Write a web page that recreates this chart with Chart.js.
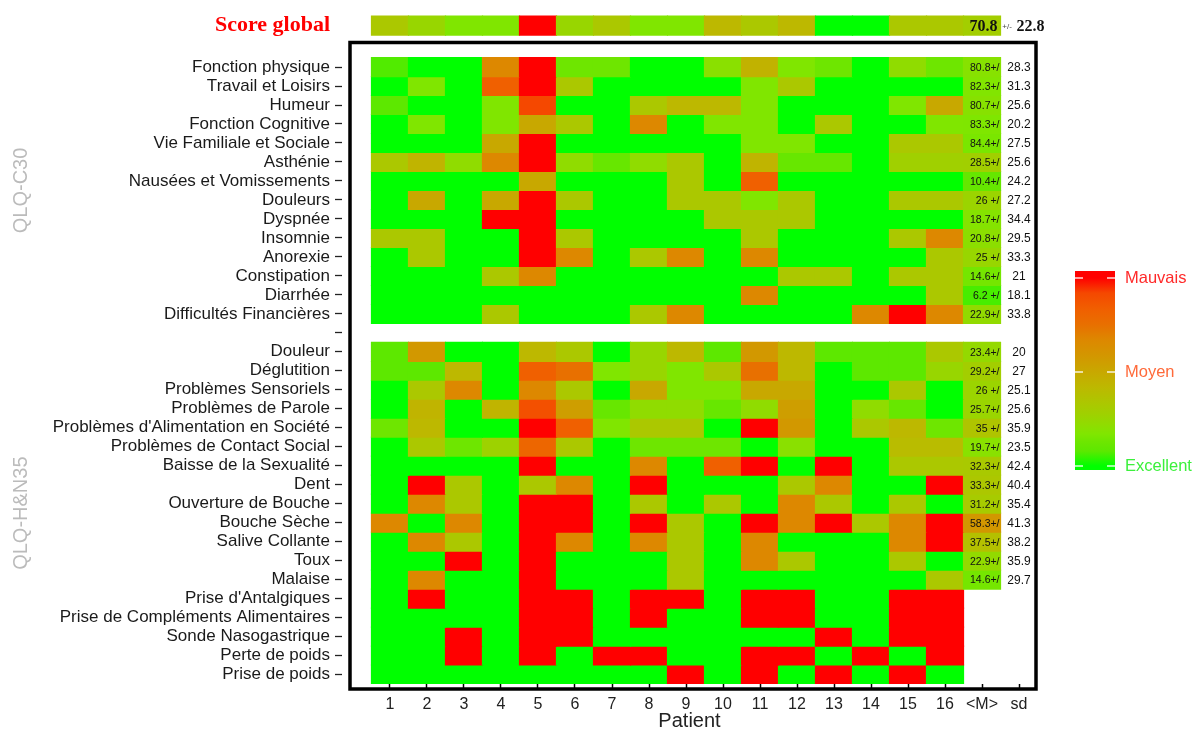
<!DOCTYPE html>
<html><head><meta charset="utf-8">
<script src="https://cdn.jsdelivr.net/npm/chart.js@4.4.1/dist/chart.umd.min.js"></script>
<style>html,body{margin:0;padding:0;background:#fff;}#wrap{width:1195px;height:731px;}</style>
</head><body><div id="wrap"><canvas id="c" width="1195" height="731"></canvas></div>
<script>
// ---------- DATA ----------
const patients = ['1','2','3','4','5','6','7','8','9','10','11','12','13','14','15','16'];
const summaryColumns = ['<M>', 'sd'];
const xAxisTitle = 'Patient';

const scoreGlobalLabel = 'Score global';
// level: 0 = excellent ... 100 = mauvais
const scoreGlobalLevel = [33,25,17,17,100,25,33,17,17,42,33,42,0,0,33,33];
const scoreGlobalMean = 70.8;
const scoreGlobalSd = 22.8;

const c30Title = 'QLQ-C30';
const c30Labels = ['Fonction physique','Travail et Loisirs','Humeur','Fonction Cognitive','Vie Familiale et Sociale','Asthénie','Nausées et Vomissements','Douleurs','Dyspnée','Insomnie','Anorexie','Constipation','Diarrhée','Difficultés Financières'];
const c30IsFunction = [true,true,true,true,true,false,false,false,false,false,false,false,false,false];
const c30Level = [
  [7,0,0,67,100,13,13,0,0,20,45,17,13,0,22,13],
  [0,17,0,83,100,33,0,0,0,0,17,33,0,0,0,0],
  [8,0,0,17,92,0,0,33,42,42,17,0,0,0,17,50],
  [0,17,0,17,50,33,0,67,0,17,17,0,33,0,0,17],
  [0,0,0,50,100,0,0,0,0,0,17,17,0,0,33,33],
  [33,44,22,67,100,22,11,22,33,0,44,11,11,0,28,28],
  [0,0,0,0,50,0,0,0,33,0,83,0,0,0,0,0],
  [0,50,0,50,100,33,0,0,33,33,17,33,0,0,33,33],
  [0,0,0,100,100,0,0,0,0,33,33,33,0,0,0,0],
  [33,33,0,0,100,33,0,0,0,0,33,0,0,0,33,67],
  [0,33,0,0,100,67,0,33,67,0,67,0,0,0,0,33],
  [0,0,0,33,67,0,0,0,0,0,0,33,33,0,33,33],
  [0,0,0,0,0,0,0,0,0,0,67,0,0,0,0,33],
  [0,0,0,33,0,0,0,33,67,0,0,0,0,67,100,67]
];
const c30Mean = [80.8,82.3,80.7,83.3,84.4,28.5,10.4,26,18.7,20.8,25,14.6,6.2,22.9];
const c30Sd = [28.3,31.3,25.6,20.2,27.5,25.6,24.2,27.2,34.4,29.5,33.3,21,18.1,33.8];

const hn35Title = 'QLQ-H&N35';
const hn35Labels = ['Douleur','Déglutition','Problèmes Sensoriels','Problèmes de Parole',"Problèmes d'Alimentation en Société",'Problèmes de Contact Social','Baisse de la Sexualité','Dent','Ouverture de Bouche','Bouche Sèche','Salive Collante','Toux','Malaise',"Prise d'Antalgiques",'Prise de Compléments Alimentaires','Sonde Nasogastrique','Perte de poids','Prise de poids'];
const hn35Level = [
  [8,58,0,0,42,33,0,25,42,8,58,42,8,8,8,33],
  [8,8,42,0,83,75,17,25,17,33,75,42,0,8,8,25],
  [0,33,67,0,67,33,0,50,17,17,50,50,0,0,33,0],
  [0,44,0,44,89,55,11,22,22,11,22,55,0,22,11,0],
  [13,42,0,0,100,83,17,33,33,0,100,58,0,33,42,13],
  [0,33,13,27,80,33,0,13,13,13,0,20,0,0,40,40],
  [0,0,0,0,100,0,0,67,0,83,100,0,100,0,33,33],
  [0,100,33,0,33,67,0,100,0,0,0,33,67,0,0,100],
  [0,67,33,0,100,100,0,33,0,33,0,67,33,0,33,0],
  [67,0,67,0,100,100,0,100,33,0,100,67,100,33,67,100],
  [0,67,33,0,100,67,0,67,33,0,67,0,0,0,67,100],
  [0,0,100,0,100,0,0,0,33,0,67,33,0,0,33,0],
  [0,67,0,0,100,0,0,0,33,0,0,0,0,0,0,33],
  [0,100,0,0,100,100,0,100,100,0,100,100,0,0,100,100],
  [0,0,0,0,100,100,0,100,0,0,100,100,0,0,100,100],
  [0,0,100,0,100,100,0,0,0,0,0,0,100,0,100,100],
  [0,0,100,0,100,0,100,100,0,0,100,100,0,100,0,100],
  [0,0,0,0,0,0,0,0,100,0,100,0,100,0,100,0]
];
const hn35Mean = [23.4,29.2,26,25.7,35,19.7,32.3,33.3,31.2,58.3,37.5,22.9,14.6,null,null,null,null,null];
const hn35Sd = [20,27,25.1,25.6,35.9,23.5,42.4,40.4,35.4,41.3,38.2,35.9,29.7,null,null,null,null,null];

const legendLabels = ['Mauvais','Moyen','Excellent'];
const legendLevels = [100, 50, 0];

// ---------- STYLE ----------
const colorStops = [[0,'#00FF00'],[8,'#5DE800'],[13,'#6EE600'],[17,'#80E600'],[22,'#90DC00'],[28,'#A0D000'],[33,'#ABC800'],[42,'#BDB800'],[50,'#C8A800'],[58,'#D29800'],[67,'#DD8800'],[75,'#E87000'],[83,'#F06000'],[92,'#F54800'],[100,'#FF0000']];
const legendTextColors = ['#FF2A2A','#FF6A3A','#3CF03C'];
const SANS = '"Liberation Sans", Arial, sans-serif';
const SERIF = '"Liberation Serif", "Times New Roman", serif';

function hexToRgb(h){ return [parseInt(h.substr(1,2),16),parseInt(h.substr(3,2),16),parseInt(h.substr(5,2),16)]; }
function levelColor(v){
  if (v <= colorStops[0][0]) return colorStops[0][1];
  for (let i=1;i<colorStops.length;i++){
    if (v <= colorStops[i][0]){
      const [a,ca]=colorStops[i-1],[b,cb]=colorStops[i];
      const t=(v-a)/(b-a), A=hexToRgb(ca), B=hexToRgb(cb);
      return 'rgb('+A.map((x,k)=>Math.round(x+(B[k]-x)*t)).join(',')+')';
    }
  }
  return colorStops[colorStops.length-1][1];
}

// ---------- ROW LAYOUT ----------
const SG_ROW = -2.18;
const rows = [];
rows.push({pos: SG_ROW, label: scoreGlobalLabel, levels: scoreGlobalLevel, mean: scoreGlobalMean, sd: scoreGlobalSd, isFunction: true, global: true});
c30Labels.forEach((l,i)=>rows.push({pos:i, label:l, levels:c30Level[i], mean:c30Mean[i], sd:c30Sd[i], isFunction:c30IsFunction[i]}));
rows.push({pos: c30Labels.length, label: '', levels: null});
hn35Labels.forEach((l,i)=>rows.push({pos:c30Labels.length+1+i, label:l, levels:hn35Level[i], mean:hn35Mean[i], sd:hn35Sd[i], isFunction:false}));

const M_X = patients.length + 1, SD_X = patients.length + 2;
const xTickValues = [...patients.map((p,i)=>i+1), M_X, SD_X];
const xTickLabels = [...patients, ...summaryColumns];

const datasets = [];
rows.forEach(r=>{
  if (!r.levels) return;
  const data = r.levels.map((v,j)=>({x:j+1, y:[r.pos-0.5, r.pos+0.5], level:v}));
  if (r.mean !== null && r.mean !== undefined){
    data.push({x:M_X, y:[r.pos-0.5, r.pos+0.5], level: r.isFunction ? 100 - r.mean : r.mean});
  }
  datasets.push({
    data, grouped:false, barPercentage:1, categoryPercentage:1, borderWidth:0, inflateAmount:0.6,
    backgroundColor: ctx => levelColor(ctx.raw.level)
  });
});

function fmtMean(m){ let s=String(m); if (s.length<4) s+=' '; return s; }

const decor = {
  id:'decor',
  afterDraw(chart){
    const ctx=chart.ctx, xs=chart.scales.x, ys=chart.scales.y, ca=chart.chartArea;
    ctx.save();
    rows.forEach(r=>{
      if (!r.levels || r.mean===null || r.mean===undefined) return;
      const y=ys.getPixelForValue(r.pos);
      ctx.fillStyle='#111';
      ctx.textBaseline='middle';
      if (r.global){
        ctx.font='bold 16px '+SERIF; ctx.textAlign='right';
        ctx.fillText(String(r.mean), xs.getPixelForValue(M_X+0.42), y+1);
        ctx.font='8px '+SANS; ctx.textAlign='left'; ctx.fillStyle='#444';
        ctx.fillText('+/-', xs.getPixelForValue(M_X+0.55), y+1);
        ctx.font='bold 16px '+SERIF; ctx.fillStyle='#111';
        ctx.fillText(String(r.sd), xs.getPixelForValue(M_X+0.93), y+1);
      } else {
        ctx.font='10.5px '+SANS; ctx.textAlign='right';
        ctx.fillText(fmtMean(r.mean)+'+/', xs.getPixelForValue(M_X+0.5)-1, y+1);
        ctx.font='12px '+SANS; ctx.textAlign='center';
        ctx.fillText(String(r.sd), xs.getPixelForValue(SD_X), y+1);
      }
    });
    // frame
    ctx.strokeStyle='#000'; ctx.lineWidth=3.5;
    ctx.strokeRect(ca.left+8, 42.5, ca.right-1-(ca.left+8), ca.bottom+5-42.5);
    // group titles
    ctx.fillStyle='#BBBBBB'; ctx.font='20px '+SANS; ctx.textAlign='center'; ctx.textBaseline='middle';
    const g1=(ys.getPixelForValue(0)+ys.getPixelForValue(c30Labels.length-1))/2;
    const g2=(ys.getPixelForValue(c30Labels.length+1)+ys.getPixelForValue(c30Labels.length+hn35Labels.length))/2;
    [[c30Title,g1],[hn35Title,g2]].forEach(([t,yy])=>{
      ctx.save(); ctx.translate(21,yy); ctx.rotate(-Math.PI/2); ctx.fillText(t,0,0); ctx.restore();
    });
    // colour legend
    const lx=1075, lw=40, y0=466, y100=278;
    const grad=ctx.createLinearGradient(0,y0,0,y100);
    colorStops.forEach(([v,c])=>grad.addColorStop(v/100,c));
    ctx.fillStyle=grad; ctx.fillRect(lx,271,lw,199);
    ctx.strokeStyle='rgba(255,255,255,0.85)'; ctx.lineWidth=1.5;
    ctx.font='16.5px '+SANS; ctx.textAlign='left'; ctx.textBaseline='middle';
    legendLevels.forEach((v,i)=>{
      const yy=y0+(y100-y0)*v/100;
      ctx.beginPath(); ctx.moveTo(lx,yy); ctx.lineTo(lx+8,yy); ctx.moveTo(lx+lw-8,yy); ctx.lineTo(lx+lw,yy); ctx.stroke();
      ctx.fillStyle=legendTextColors[i];
      ctx.fillText(legendLabels[i], lx+lw+10, yy);
    });
    ctx.restore();
  }
};

new Chart(document.getElementById('c'), {
  type:'bar',
  data:{datasets},
  options:{
    responsive:false, animation:false, devicePixelRatio:1,
    layout:{padding:{top:8,left:0,right:158,bottom:0}},
    plugins:{legend:{display:false}, tooltip:{enabled:false}},
    scales:{
      x:{
        type:'linear', offset:false, min:-0.297, max:18.486,
        afterBuildTicks: s=>{ s.ticks = xTickValues.map(v=>({value:v})); },
        afterFit: s=>{ s.height = 47; },
        ticks:{autoSkip:false, maxRotation:0, padding:8, color:'#222', font:{family:SANS,size:16,lineHeight:1},
          callback:(v)=>{ const i=xTickValues.indexOf(v); return i>=0 ? xTickLabels[i] : ''; }},
        grid:{offset:false, drawOnChartArea:false, drawTicks:true, tickLength:5, tickColor:'#000', tickWidth:1.5},
        border:{display:false},
        title:{display:true, text:xAxisTitle, color:'#222', font:{family:SANS,size:20,lineHeight:1.0}, padding:{top:0,bottom:0}}
      },
      y:{
        type:'linear', reverse:true, offset:false, min:-3, max:32.5,
        afterBuildTicks: s=>{ s.ticks = rows.map(r=>({value:r.pos})); },
        afterFit: s=>{ s.width = 342; },
        ticks:{autoSkip:false, padding:5,
          callback:(v,i)=>rows[i] ? rows[i].label : '',
          color: c => c.index===0 ? '#FF0000' : '#1a1a1a',
          font: c => c.index===0 ? {family:SERIF,size:22,weight:'bold',lineHeight:0.5} : {family:SANS,size:17,lineHeight:0.6}},
        grid:{drawOnChartArea:false, drawTicks:true, tickLength:7, tickWidth:1.3,
          tickColor: c => c.index===0 ? 'rgba(0,0,0,0)' : '#222'},
        border:{display:false}
      }
    }
  },
  plugins:[decor]
});
</script></body></html>
